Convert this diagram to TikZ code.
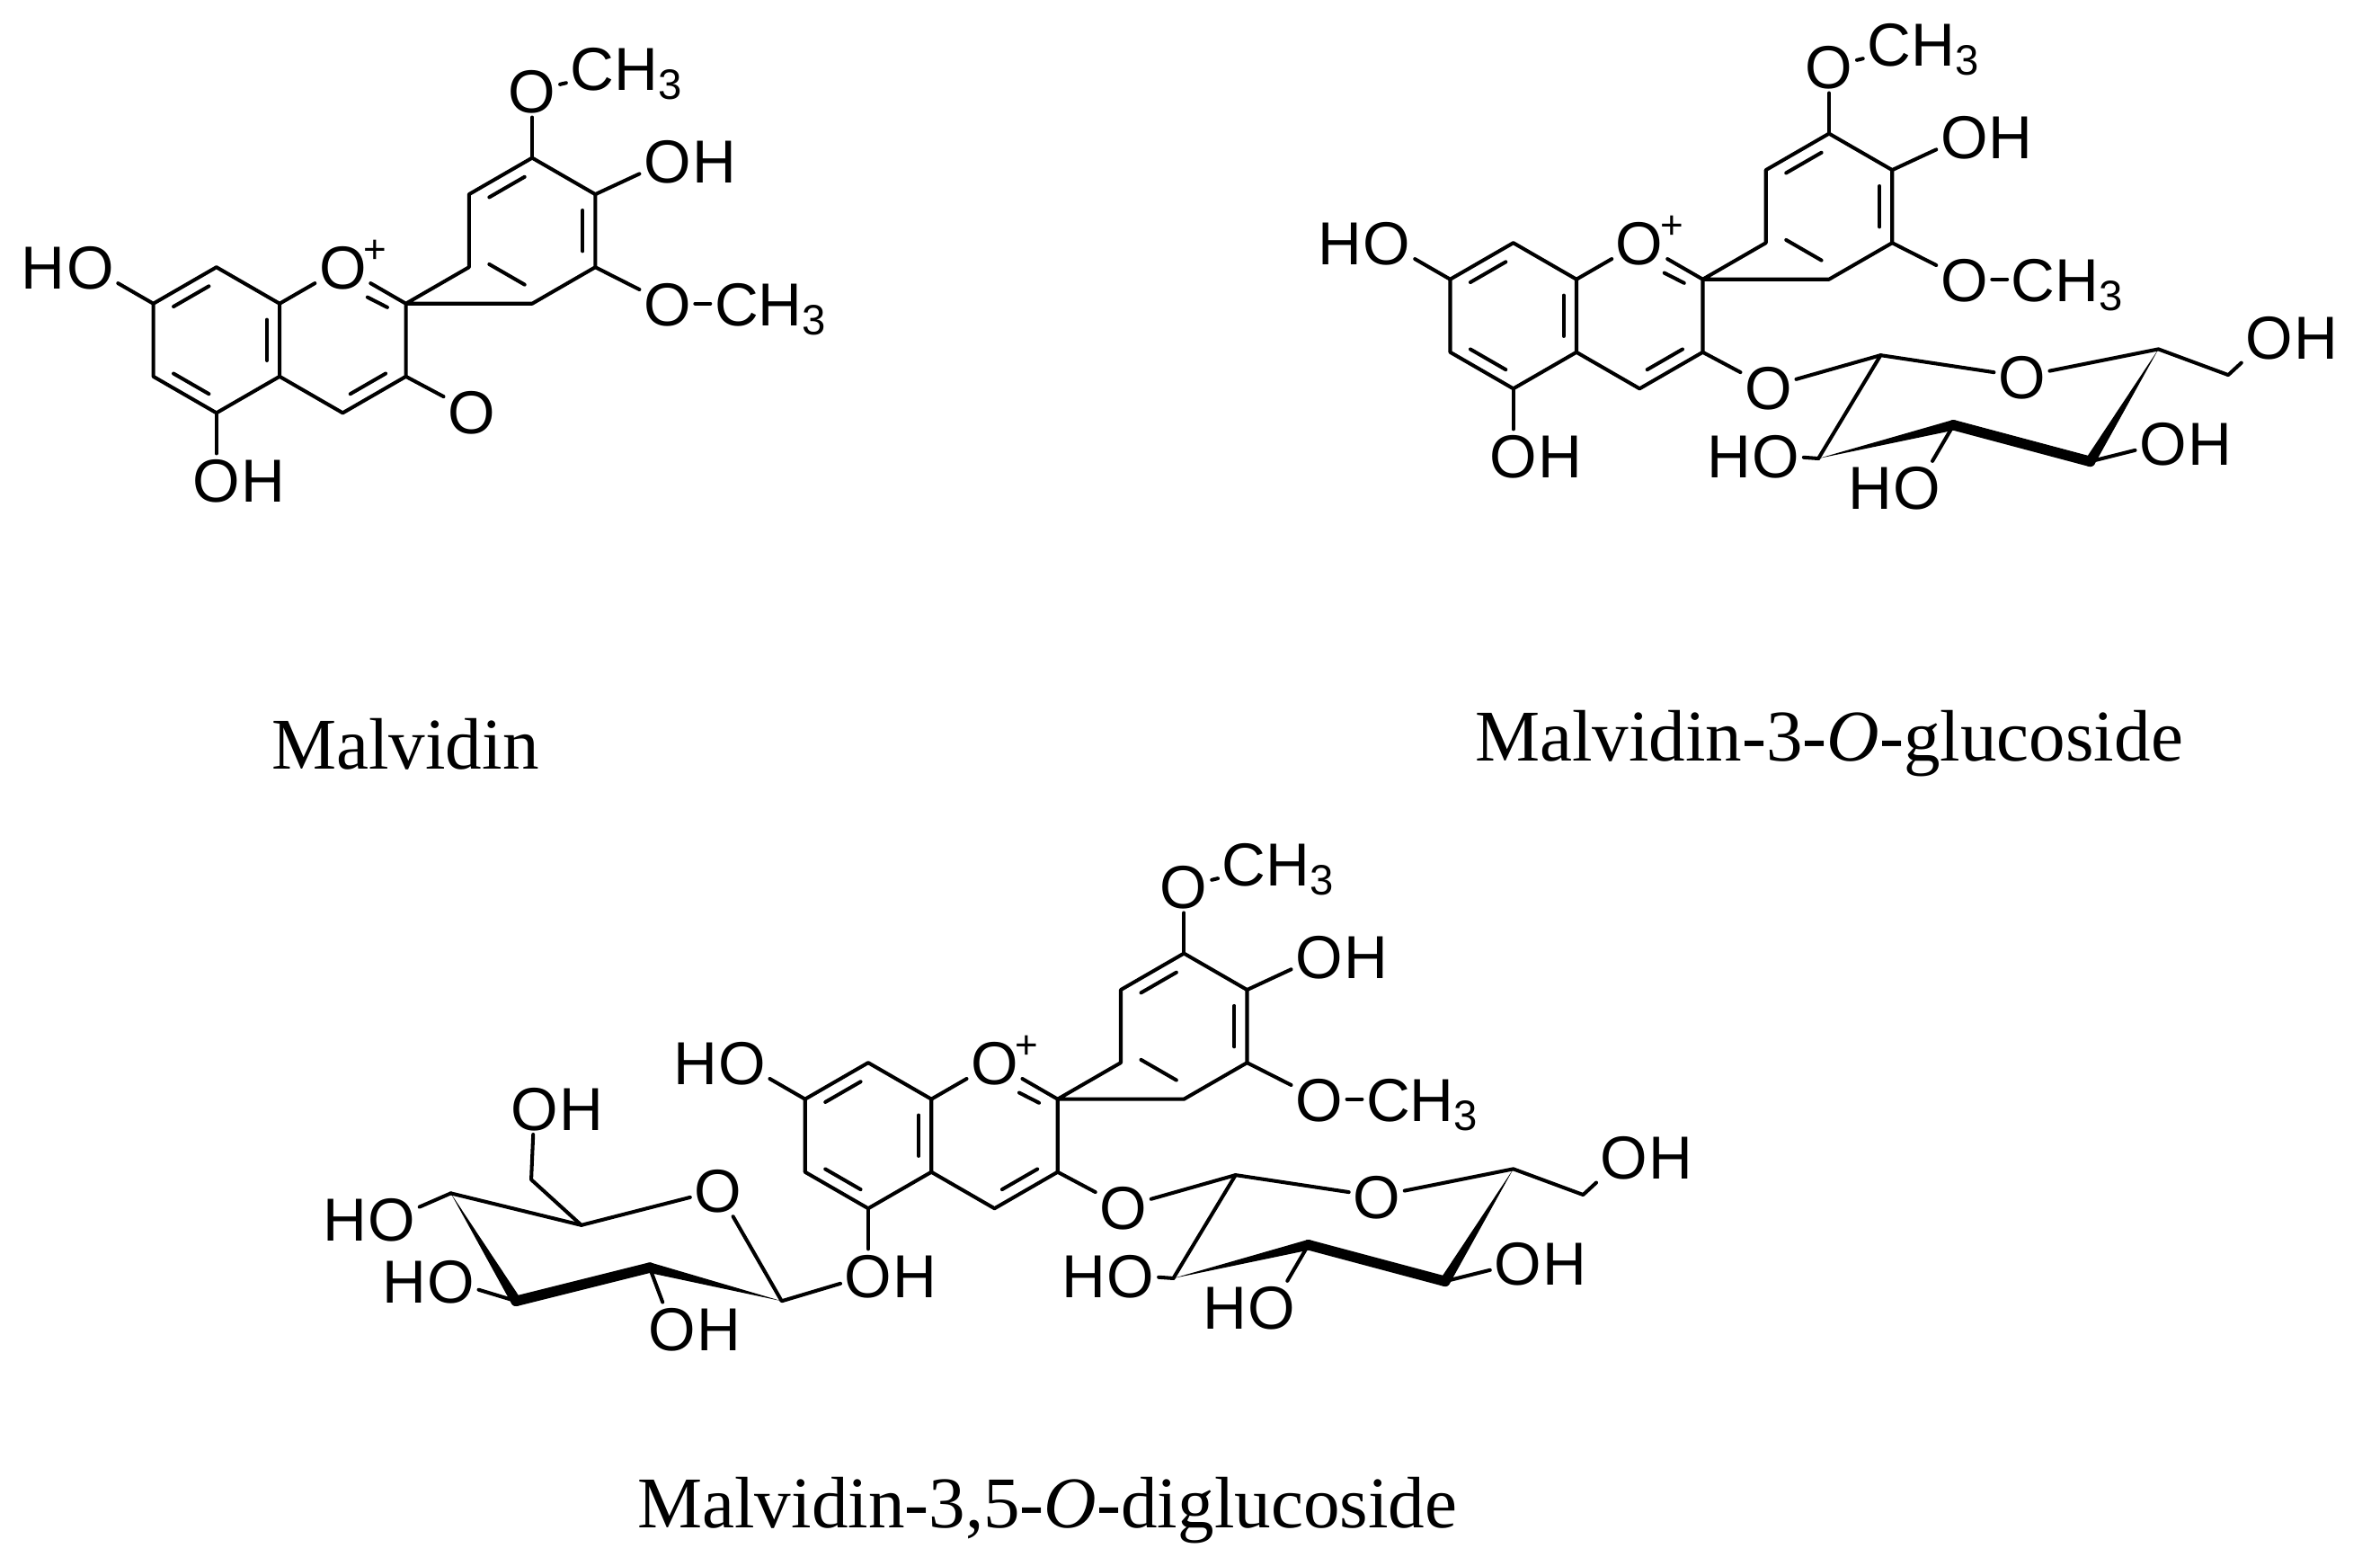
\documentclass[tikz,border=0pt]{standalone}
\usepackage{fontspec}
\setmainfont{Liberation Serif}
\setsansfont{Liberation Sans}
\usetikzlibrary{calc}
\tikzset{
 bond/.style={line width=1.2pt,line cap=round,line join=round},
 atom/.style={font=\sffamily\fontsize{20}{20}\selectfont,inner sep=1.2pt,text height=14.5pt,text depth=0pt},
 hlab/.style={font=\sffamily\fontsize{20}{20}\selectfont,inner sep=0pt,text height=14.5pt,text depth=0pt},
 hR/.style={label={[hlab,label distance=-1.2pt]east:H}},
 hL/.style={label={[hlab,label distance=-1.2pt]west:H}},
 me/.style={font=\sffamily\fontsize{20}{20}\selectfont,inner sep=1.2pt,text height=14.5pt,text depth=0pt,anchor=west},
 plus/.style={font=\sffamily\fontsize{13}{13}\selectfont,inner sep=0pt},
 caption/.style={font=\fontsize{24}{24}\selectfont,inner sep=0pt}
}
\newcommand\dbl[4][0.15]{\draw[bond] ($(#2)!#1!(#3)!4.5pt!(#4)$) -- ($(#3)!#1!(#2)!4.5pt!(#4)$);}
\newcommand\wdg[2]{\fill ($(#2)!1.7pt!90:(#1)$) -- (#1) -- ($(#2)!1.7pt!-90:(#1)$) -- cycle; \fill (#2) circle (1.7pt);}
\newcommand\AGL[3]{%
\begin{scope}[shift={(#2,#3)}]
 \coordinate (#1cA) at (0,0); \coordinate (#1cC) at (83.2,0); \coordinate (#1cB) at (208,-72);
 \coordinate (#1c8) at (0,-48); \coordinate (#1c8a) at (41.6,-24); \coordinate (#1c4a) at (41.6,24);
 \coordinate (#1c5) at (0,48); \coordinate (#1c6) at (-41.6,24); \coordinate (#1c7) at (-41.6,-24);
 \node[atom] (#1o1) at (83.2,-48) {O};
 \node[plus] at ($(#1o1.north east)+(3,7)$) {+};
 \coordinate (#1c2) at (124.8,-24); \coordinate (#1c3) at (124.8,24); \coordinate (#1c4) at (83.2,48);
 \coordinate (#1b1) at (166.4,-48); \coordinate (#1b2) at (166.4,-96); \coordinate (#1b3) at (208,-120);
 \coordinate (#1b4) at (249.6,-96); \coordinate (#1b5) at (249.6,-48); \coordinate (#1b6) at (208,-24);
 \node[atom] (#1o3p) at (208,-164) {O};
 \node[me] (#1m3) at ($(#1o3p.east)+(4,-15)$) {CH\textsubscript{3}};
 \node[atom,hR] (#1o4p) at (297,-118) {O};
 \node[atom] (#1o5p) at (297,-24) {O};
 \node[me] (#1m5) at ($(#1o5p.east)+(10,0)$) {CH\textsubscript{3}};
 \node[atom] (#1o3) at (168,47) {O};
 \node[atom,hR] (#1o5) at (0,92) {O};
 \node[atom,hL] (#1o7) at (-83.2,-48) {O};
 \draw[bond] (#1c8)--(#1c8a)--(#1c4a)--(#1c5)--(#1c6)--(#1c7)--cycle;
 \draw[bond] (#1c8a)--(#1o1)--(#1c2)--(#1c3)--(#1c4)--(#1c4a);
 \draw[bond] (#1c2)--(#1b1)--(#1b2)--(#1b3)--(#1b4)--(#1b5)--(#1b6)--cycle;
 \draw[bond] (#1b3)--(#1o3p); \draw[bond] (#1o3p)--(#1m3);
 \draw[bond] (#1b4)--(#1o4p); \draw[bond] (#1b5)--(#1o5p); \draw[bond] (#1o5p)--(#1m5);
 \draw[bond] (#1c3)--(#1o3); \draw[bond] (#1c5)--(#1o5); \draw[bond] (#1c7)--(#1o7);
 \dbl{#1c7}{#1c8}{#1cA} \dbl{#1c8a}{#1c4a}{#1cA} \dbl{#1c5}{#1c6}{#1cA}
 \dbl{#1c3}{#1c4}{#1cC}
 \draw[bond] ($(#1c2)!0.5!(#1o1)!4.5pt!(#1cC)$) -- ($(#1c2)!0.12!(#1o1)!4.5pt!(#1cC)$);
 \dbl{#1b2}{#1b3}{#1cB} \dbl{#1b4}{#1b5}{#1cB} \dbl{#1b1}{#1b6}{#1cB}
\end{scope}}
\newcommand\GLCthree[3]{%
\begin{scope}[shift={(#2,#3)}]
 \coordinate (#1s1) at (242,26); \node[atom] (#1so) at (335,40) {O};
 \coordinate (#1s5) at (425,22); \coordinate (#1s6) at (471,39);
 \node[atom,hR] (#1so6) at (498,14) {O};
 \coordinate (#1s4) at (380,96); \coordinate (#1s3) at (290,72); \coordinate (#1s2) at (201,94);
 \node[atom,hL] (#1so2) at (173,92) {O};
 \node[atom,hL] (#1so3) at (266,113) {O};
 \node[atom,hR] (#1so4) at (428,84) {O};
 \draw[bond] (#1o3)--(#1s1)--(#1so)--(#1s5)--(#1s6)--(#1so6);
 \draw[bond] (#1s1)--(#1s2); \draw[bond] (#1s2)--(#1so2);
 \draw[bond] (#1s3)--(#1so3); \draw[bond] (#1s4)--(#1so4);
 \wdg{#1s2}{#1s3}
 \draw[line width=3.4pt,line cap=round] (#1s3)--(#1s4);
 \wdg{#1s5}{#1s4}
\end{scope}}
\newcommand\GLCfive[3]{%
\begin{scope}[shift={(#2,#3)}]
 \coordinate (#1t1) at (-57,109); \node[atom] (#1to) at (-99,36) {O};
 \coordinate (#1t5) at (-189,59); \coordinate (#1t6) at (-222,29);
 \node[atom,hR] (#1to6) at (-220,-18) {O};
 \coordinate (#1t4) at (-275,38); \coordinate (#1t3) at (-232,109); \coordinate (#1t2) at (-144,87);
 \node[atom,hL] (#1to4) at (-314,55) {O};
 \node[atom,hL] (#1to3) at (-275,96) {O};
 \node[atom,hR] (#1to2) at (-129,127) {O};
 \draw[bond] (#1o5)--(#1t1)--(#1to)--(#1t5)--(#1t4);
 \draw[bond] (#1t5)--(#1t6)--(#1to6);
 \draw[bond] (#1t4)--(#1to4); \draw[bond] (#1t3)--(#1to3); \draw[bond] (#1t2)--(#1to2);
 \wdg{#1t4}{#1t3}
 \draw[line width=3.4pt,line cap=round] (#1t3)--(#1t2);
 \wdg{#1t1}{#1t2}
\end{scope}}
\begin{document}
\begin{tikzpicture}[x=0.5pt,y=-0.5pt]
\useasboundingbox (0,0) rectangle (1568,1031);
\AGL{m}{142.6}{224}
\AGL{g}{997}{208}
\GLCthree{g}{997}{208}
\AGL{d}{572}{748}
\GLCthree{d}{572}{748}
\GLCfive{d}{572}{748}
\node[caption] (cap1) at (267,490) {Malvidin};
\node[caption] (cap2) at (1205,490) {Malvidin-3-\textit{O}-glucoside};
\node[caption] (cap3) at (690,995) {Malvidin-3,5-\textit{O}-diglucoside};
\end{tikzpicture}
\end{document}
